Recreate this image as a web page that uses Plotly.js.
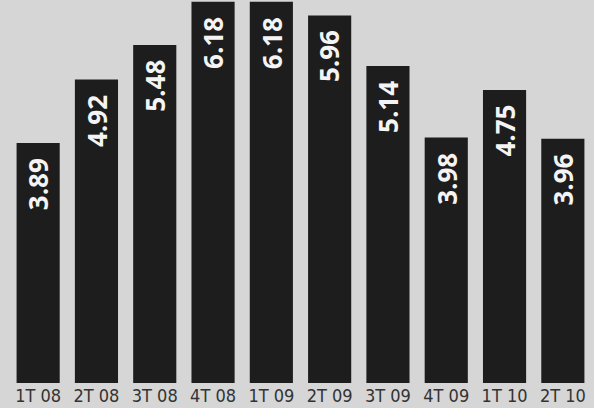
<!DOCTYPE html>
<html>
<head>
<meta charset="utf-8">
<script src="https://cdn.plot.ly/plotly-3.0.1.min.js"></script>
<style>html,body{margin:0;padding:0;background:#d6d6d6;}#chart{width:594px;height:408px;}</style>
</head>
<body>
<div id="chart"></div>
<script>
const categories = ["1T 08","2T 08","3T 08","4T 08","1T 09","2T 09","3T 09","4T 09","1T 10","2T 10"];
const values = [3.89, 4.92, 5.48, 6.18, 6.18, 5.96, 5.14, 3.98, 4.75, 3.96];
const labels = values.map(v => v.toFixed(2));

const trace = {
  type: "bar",
  x: categories,
  y: values,
  marker: {color: "#1d1d1d", line: {width: 0}},
  hoverinfo: "skip"
};

const annotations = categories.map((c, i) => ({
  x: c,
  y: values[i],
  xref: "x",
  yref: "y",
  text: labels[i],
  showarrow: false,
  textangle: -90,
  xanchor: "center",
  yanchor: "top",
  yshift: -14,
  borderpad: 0,
  font: {family: "Open Sans, Noto Sans, sans-serif", size: 26, color: "#f4f4f4", weight: "bold"}
}));

const layout = {
  width: 594,
  height: 408,
  margin: {l: 9, r: 2, t: 0, b: 25},
  paper_bgcolor: "#d6d6d6",
  plot_bgcolor: "#d6d6d6",
  bargap: 0.26,
  showlegend: false,
  annotations: annotations,
  xaxis: {
    type: "category",
    range: [-0.5, 9.5],
    showgrid: false, zeroline: false, showline: false,
    ticks: "", ticklen: 0,
    tickfont: {family: "Liberation Sans Narrow, DejaVu Sans Condensed, sans-serif", size: 18, color: "#333333"}
  },
  yaxis: {
    range: [0, 6.21],
    visible: false,
    showgrid: false, zeroline: false
  }
};

Plotly.newPlot("chart", [trace], layout, {staticPlot: true, displayModeBar: false});
</script>
</body>
</html>
